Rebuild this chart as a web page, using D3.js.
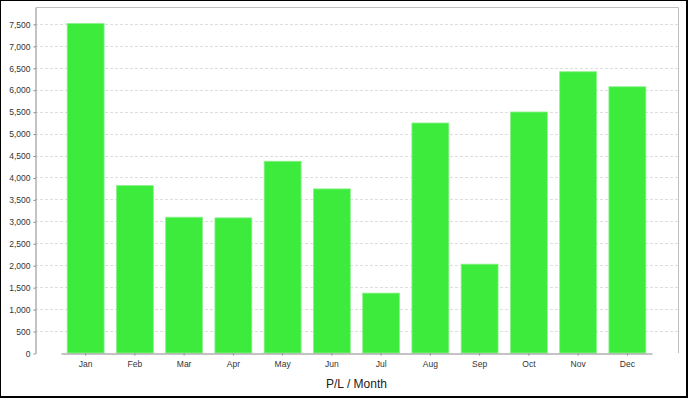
<!DOCTYPE html>
<html>
<head>
<meta charset="utf-8">
<script src="https://cdn.jsdelivr.net/npm/d3@7"></script>
<style>
  body { margin: 0; background: #fff; }
  svg text { font-family: "Liberation Sans", Arial, sans-serif; }
</style>
</head>
<body>
<div id="chart"></div>
<script>
// P/L per month
var months = ["Jan", "Feb", "Mar", "Apr", "May", "Jun", "Jul", "Aug", "Sep", "Oct", "Nov", "Dec"];
var plValues = [7510, 3815, 3095, 3080, 4370, 3740, 1365, 5242, 2025, 5493, 6410, 6068];
var yTicks = d3.range(0, 8000, 500);

var W = 688, H = 398;
var plot = { left: 35, top: 7, right: 678, bottom: 353 };

var svg = d3.select("#chart").append("svg")
    .attr("width", W)
    .attr("height", H);

// outer frame
svg.append("rect").attr("width", W).attr("height", H).attr("fill", "#000");
svg.append("rect").attr("x", 1).attr("y", 1)
    .attr("width", W - 3).attr("height", H - 3).attr("fill", "#fff");

var x = d3.scaleBand()
    .domain(months)
    .range([plot.left + 26, plot.right - 26])
    .paddingInner(0.25)
    .paddingOuter(0.125);

var y = d3.scaleLinear()
    .domain([0, d3.max(plValues) * 1.05])
    .range([plot.bottom, plot.top]);

// gridlines
svg.append("g")
    .selectAll("line")
    .data(yTicks.filter(function(d) { return d > 0; }))
    .enter().append("line")
    .attr("x1", plot.left).attr("x2", plot.right)
    .attr("y1", function(d) { return Math.round(y(d)) + 0.5; })
    .attr("y2", function(d) { return Math.round(y(d)) + 0.5; })
    .attr("stroke", "#dedede")
    .attr("stroke-dasharray", "3,2");

// plot border (top/right)
svg.append("path")
    .attr("d", "M" + (plot.left + 0.5) + "," + (plot.top + 0.5) + "H" + (plot.right + 0.5) + "V" + plot.bottom)
    .attr("fill", "none")
    .attr("stroke", "#c0c0c0");

// bars
svg.append("g")
    .selectAll("rect")
    .data(plValues)
    .enter().append("rect")
    .attr("x", function(d, i) { return x(months[i]); })
    .attr("width", x.bandwidth())
    .attr("y", function(d) { return y(d); })
    .attr("height", function(d) { return plot.bottom - y(d); })
    .attr("fill", "#3deb3d")
    .attr("stroke", "#8cf08c")
    .attr("stroke-width", 0.8);

// axes
var yAxis = d3.axisLeft(y)
    .tickValues(yTicks)
    .tickSizeInner(2)
    .tickSizeOuter(0)
    .tickPadding(3)
    .tickFormat(d3.format(","));

var gy = svg.append("g")
    .attr("transform", "translate(" + (plot.left + 0.5) + ",0.5)")
    .call(yAxis);

var xAxis = d3.axisBottom(x)
    .tickSizeInner(2)
    .tickSizeOuter(0)
    .tickPadding(5);

var gx = svg.append("g")
    .attr("transform", "translate(0," + (plot.bottom + 0.5) + ")")
    .call(xAxis);

[gx, gy].forEach(function(g) {
    g.select(".domain").attr("stroke", "#888");
    g.selectAll(".tick line").attr("stroke", "#888");
    g.selectAll(".tick text")
        .attr("fill", "#333")
        .style("font-size", "8.5px");
});

// axis title
svg.append("text")
    .attr("x", (plot.left + plot.right) / 2)
    .attr("y", 388)
    .attr("text-anchor", "middle")
    .attr("fill", "#222")
    .style("font-size", "12px")
    .text("P/L / Month");
</script>
</body>
</html>
